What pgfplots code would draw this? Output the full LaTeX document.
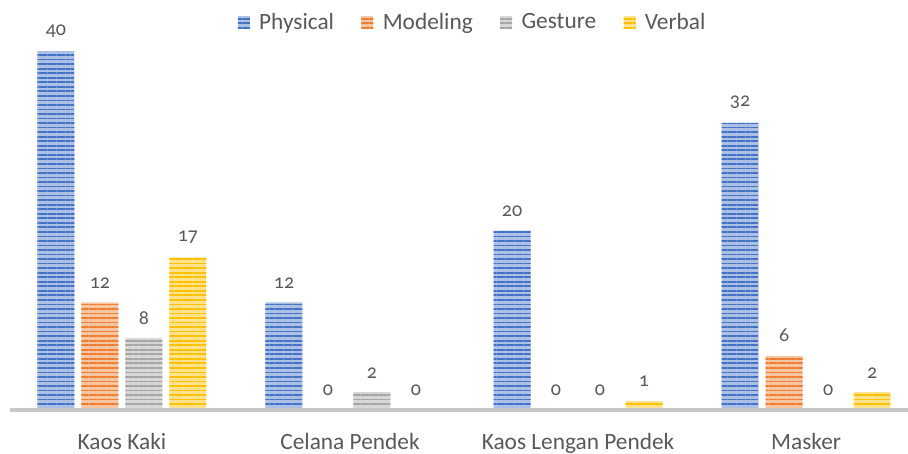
\documentclass[border=0pt]{standalone}
\usepackage{pgfplots}
\pgfplotsset{compat=1.18}
\usepackage{fontspec}
\setmainfont{Carlito}[Numbers=OldStyle]
\usetikzlibrary{patterns.meta}
\definecolor{cBlue}{HTML}{4472C4}
\definecolor{cOrange}{HTML}{ED7D31}
\definecolor{cGray}{HTML}{A5A5A5}
\definecolor{cGold}{HTML}{FFC000}
\definecolor{txt}{HTML}{595959}
\tikzset{
  striped/.style={fill=#1!45!white, draw=none,
    postaction={pattern={Lines[angle=0,distance=3.4pt,line width=1.3pt]}, pattern color=#1}},
}
\begin{document}
\begin{tikzpicture}
\begin{axis}[
  scale only axis,
  width=673.5pt, height=307.5pt,
  xmin=-0.491, xmax=3.447,
  ymin=0, ymax=45.7,
  axis line style={draw=none},
  axis x line*=bottom,
  axis y line=none,
  ybar=5.25pt, bar width=27.75pt,
  xtick={0,1,2,3},
  xticklabels={Kaos Kaki, Celana Pendek, Kaos Lengan Pendek, Masker},
  xtick style={draw=none},
  xticklabel style={font=\fontsize{17.5pt}{20pt}\selectfont, text=txt, anchor=base, yshift=-25.5pt},
  nodes near coords,
  every node near coord/.append style={font=\fontsize{15pt}{18pt}\selectfont, text=txt, yshift=7pt},
  /pgf/number format/assume math mode=true,
  clip=false,
  legend columns=4,
  legend style={draw=none, at={(0.5156,0.946)}, anchor=center,
    font=\fontsize{17.5pt}{20pt}\selectfont, text=txt, inner sep=0pt,
    /tikz/every odd column/.append style={column sep=5pt},
    /tikz/every even column/.append style={column sep=18.5pt}},
  legend image code/.code={\path[#1] (0pt,-4.5pt) rectangle (9pt,4.5pt);},
]
\addplot[striped=cBlue] coordinates {(0,40) (1,12) (2,20) (3,32)};
\addplot[striped=cOrange] coordinates {(0,12) (1,0) (2,0) (3,6)};
\addplot[striped=cGray] coordinates {(0,8) (1,2) (2,0) (3,0)};
\addplot[striped=cGold] coordinates {(0,17) (1,0) (2,1) (3,2)};
\legend{Physical, Modeling, Gesture, Verbal}
\draw[line width=2.4pt, draw=black!22] (axis cs:-0.491,0) -- (axis cs:3.447,0);
\end{axis}
\pgfresetboundingbox
\path (-7.5pt,-33pt) rectangle (673.5pt,307.5pt);
\end{tikzpicture}
\end{document}
